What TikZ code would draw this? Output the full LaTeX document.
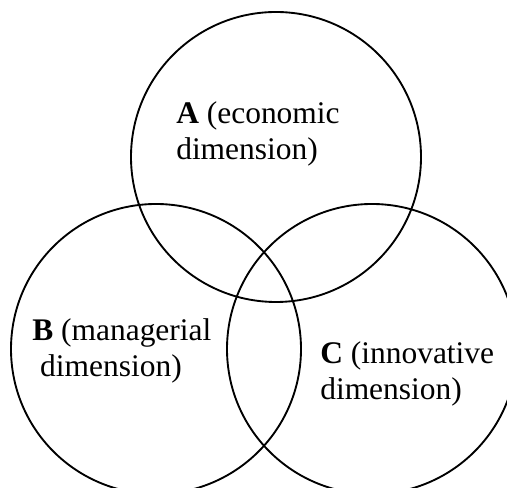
\documentclass[tikz,border=0pt]{standalone}
\usepackage{fontspec}
\setmainfont{Liberation Serif}
\usepackage{tikz}
\usetikzlibrary{positioning}
\tikzset{
  ring/.style ={draw=black, line width=1.4pt, circle, inner sep=0pt,
                minimum size=217.5pt},
  dim/.style  ={font=\fontsize{23.6}{27}\selectfont, align=left,
                anchor=base west, inner sep=0pt},
}

\begin{document}
\begin{tikzpicture}[x=0.75pt,y=0.75pt]
  \useasboundingbox (0,0) rectangle (507,488);

  % ---------------------------------------------------------------- circles
  \node[ring] (ca) at (276,331) {};
  \node[ring] (cb) at (156,139) {};
  \node[ring] (cc) at (372,139) {};

  % ---------------------------------------------------------------- labels
  % anchor sits on the baseline of the second line
  \node[dim] (la) at (176,328) {\textbf{A} (economic\\dimension)};
  \node[dim] (lb) at (32,111)  {\textbf{B} (managerial\\\ dimension)};
  \node[dim] (lc) at (320,88)  {\textbf{C} (innovative\\dimension)};
\end{tikzpicture}
\end{document}
